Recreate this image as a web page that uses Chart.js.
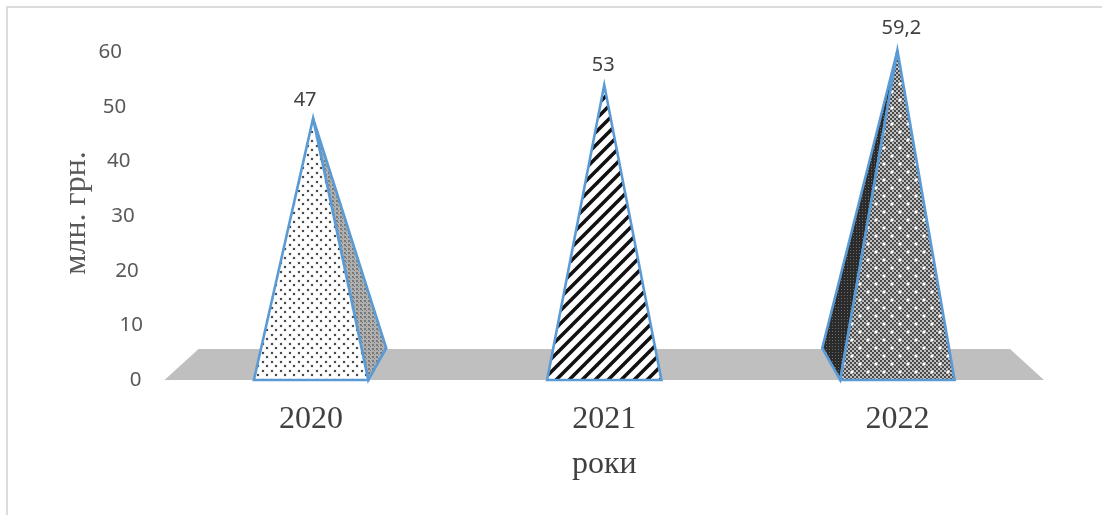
<!DOCTYPE html>
<html>
<head>
<meta charset="utf-8">
<title>млн. грн.</title>
<script src="https://cdn.jsdelivr.net/npm/chart.js@4/dist/chart.umd.min.js"></script>
<style>
    html, body { margin: 0; padding: 0; background: #fff; }
    #wrap { position: relative; width: 1102px; height: 515px; overflow: hidden; }
    #frame { position: absolute; left: 6px; top: 6px; right: -4px; bottom: -4px; border: 2px solid #dcdcdc; }
    canvas { position: relative; }
</style>
</head>
<body>
<div id="wrap">
    <div id="frame"></div>
    <canvas id="pyramidChart" width="1102" height="515"></canvas>
</div>
<script>
const years = ['2020', '2021', '2022'];
const amounts = [47, 53, 59.2];
const valueTicks = [0, 10, 20, 30, 40, 50, 60];
const yTitle = 'млн. грн.';
const xTitle = 'роки';

const BLUE = '#5B9BD5';
const FLOOR = '#BFBFBF';

// Small repeating tiles for the pyramid faces
function tile(w, h, paint) {
    const c = document.createElement('canvas');
    c.width = w;
    c.height = h;
    paint(c.getContext('2d'));
    return c.getContext('2d').createPattern(c, 'repeat');
}

const dotted = tile(9, 9, g => {
    g.fillStyle = '#fff';
    g.fillRect(0, 0, 9, 9);
    [[1, 1], [5, 5]].forEach(([x, y]) => {
        g.fillStyle = '#dcdcdc';
        g.fillRect(x - 0.5, y - 0.5, 3, 3);
        g.fillStyle = '#4a4a4a';
        g.fillRect(x, y, 2, 2);
    });
});

const stripes = tile(13, 13, g => {
    g.fillStyle = '#fff';
    g.fillRect(0, 0, 13, 13);
    g.strokeStyle = '#111';
    g.lineWidth = 3.5;
    [-13, 0, 13].forEach(o => {
        g.beginPath();
        g.moveTo(o - 2, 15);
        g.lineTo(o + 15, -2);
        g.stroke();
    });
});

const checkDots = tile(16, 16, g => {
    for (let y = 0; y < 16; y += 2) {
        for (let x = 0; x < 16; x += 2) {
            g.fillStyle = (x + y) % 4 === 0 ? '#4a4a4a' : '#c0c0c0';
            g.fillRect(x, y, 2, 2);
        }
    }
    g.fillStyle = '#fff';
    [[4, 4], [12, 12]].forEach(([x, y]) => {
        g.fillRect(x - 1, y - 1, 2, 2);
        g.fillRect(x - 2, y - 0.5, 4, 1);
        g.fillRect(x - 0.5, y - 2, 1, 4);
    });
});

const greyWeave = tile(4, 4, g => {
    g.fillStyle = '#b0b0b0';
    g.fillRect(0, 0, 4, 4);
    g.fillStyle = '#7a7a7a';
    g.fillRect(0, 0, 2, 2);
    g.fillRect(2, 2, 1, 1);
});

const darkWeave = tile(3, 3, g => {
    g.fillStyle = '#2b2b2b';
    g.fillRect(0, 0, 3, 3);
    g.fillStyle = '#6a6a6a';
    g.fillRect(1, 1, 1, 1);
});

// side: 1 = face visible on the right, -1 = on the left, 0 = none
const faces = [
    { fill: dotted, side: 1, sideFill: greyWeave, apexShift: 2, labelDx: -8, labelDy: -18 },
    { fill: stripes, side: 0, sideFill: null, apexShift: 0, labelDx: -1, labelDy: -20 },
    { fill: checkDots, side: -1, sideFill: darkWeave, apexShift: 0, labelDx: 4, labelDy: -22 }
];

function outline(ctx, pts, fill) {
    ctx.beginPath();
    pts.forEach((p, i) => (i ? ctx.lineTo(p[0], p[1]) : ctx.moveTo(p[0], p[1])));
    ctx.closePath();
    ctx.fillStyle = fill;
    ctx.fill();
    ctx.lineWidth = 2.6;
    ctx.lineJoin = 'miter';
    ctx.strokeStyle = BLUE;
    ctx.stroke();
}

const pyramidPlugin = {
    id: 'pyramids',
    beforeDatasetsDraw(chart) {
        // Floor of the 3D box
        const { ctx, scales: { x, y } } = chart;
        const base = y.getPixelForValue(0);
        ctx.save();
        ctx.fillStyle = FLOOR;
        ctx.beginPath();
        ctx.moveTo(x.left, base);
        ctx.lineTo(x.left + 34, base - 31);
        ctx.lineTo(x.right - 34, base - 31);
        ctx.lineTo(x.right, base);
        ctx.closePath();
        ctx.fill();
        ctx.restore();
    },
    beforeDatasetDraw(chart, args) {
        const { ctx } = chart;
        const meta = chart.getDatasetMeta(args.index);
        ctx.save();
        meta.data.forEach((bar, i) => {
            const f = faces[i];
            const half = bar.width / 2;
            const apex = [bar.x + f.apexShift, bar.y];
            if (f.side) {
                const near = bar.x + f.side * half;
                outline(ctx, [apex, [near + f.side * 18, bar.base - 32], [near, bar.base]], f.sideFill);
            }
            outline(ctx, [[bar.x - half, bar.base], [bar.x + half, bar.base], apex], f.fill);
            // value above the tip, decimal comma
            ctx.fillStyle = '#404040';
            ctx.font = '20px "Noto Sans"';
            ctx.textAlign = 'center';
            ctx.textBaseline = 'middle';
            ctx.fillText(String(amounts[i]).replace('.', ','), apex[0] + f.labelDx, apex[1] + f.labelDy);
        });
        ctx.restore();
        return false; // pyramids replace the plain bars
    },
    afterDraw(chart) {
        // Tick labels run up the slanted wall, so they shift with the value
        const { ctx, scales: { x, y } } = chart;
        ctx.save();
        ctx.fillStyle = '#595959';
        ctx.font = '20.5px "Noto Sans"';
        ctx.textAlign = 'center';
        ctx.textBaseline = 'middle';
        y.ticks.forEach(t => {
            ctx.fillText(t.label ?? t.value, x.left - 29 - t.value * 0.42, y.getPixelForValue(t.value) + t.value * 0.1);
        });
        ctx.restore();
    }
};

new Chart(document.getElementById('pyramidChart'), {
    type: 'bar',
    data: {
        labels: years,
        datasets: [{
            label: yTitle,
            data: amounts,
            backgroundColor: '#fff',
            categoryPercentage: 0.39,
            barPercentage: 1
        }]
    },
    plugins: [pyramidPlugin],
    options: {
        responsive: false,
        animation: false,
        layout: { padding: { left: 57, right: 58, top: 46, bottom: 34 } },
        plugins: {
            legend: { display: false },
            tooltip: { enabled: false }
        },
        scales: {
            x: {
                grid: { display: false },
                border: { display: false },
                ticks: {
                    color: '#404040',
                    padding: 16,
                    font: { family: '"Liberation Serif"', size: 32, lineHeight: 1 }
                },
                title: {
                    display: true,
                    text: xTitle,
                    color: '#404040',
                    padding: { top: -3, bottom: 0 },
                    font: { family: '"Liberation Serif"', size: 32, lineHeight: 1 }
                }
            },
            y: {
                min: 0,
                max: 60,
                afterFit(scale) { scale.width = 107.5; },
                afterBuildTicks(scale) { scale.ticks = valueTicks.map(value => ({ value })); },
                grid: { display: false },
                border: { display: false },
                ticks: { display: false },
                title: {
                    display: true,
                    text: yTitle,
                    color: '#595959',
                    padding: 0,
                    font: { family: '"Liberation Serif"', size: 32 }
                }
            }
        }
    }
});
</script>
</body>
</html>
